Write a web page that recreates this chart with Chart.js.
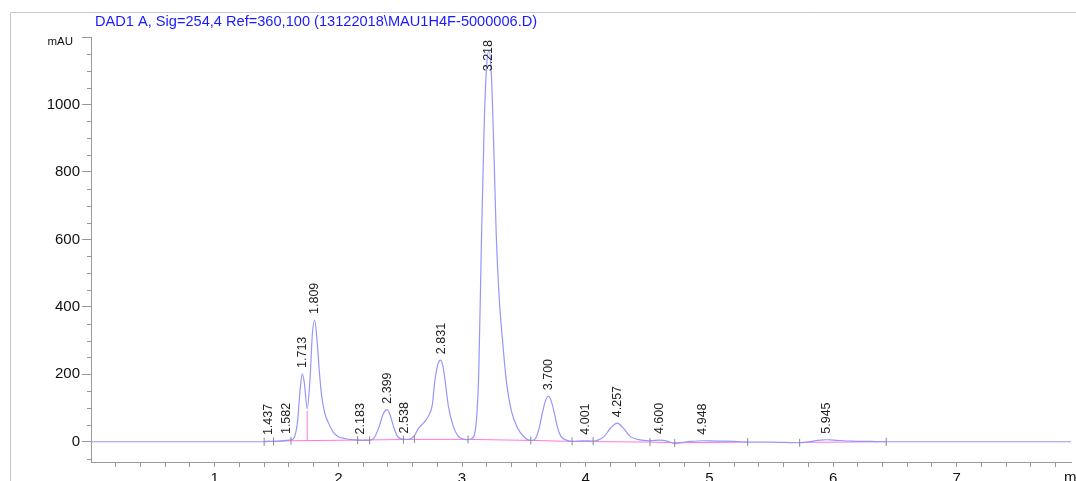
<!DOCTYPE html>
<html>
<head>
<meta charset="utf-8">
<script src="https://cdn.jsdelivr.net/npm/chart.js@4.4.1/dist/chart.umd.min.js"></script>
<style>
  html, body { margin: 0; padding: 0; background: #fff; }
  #wrap { width: 1076px; height: 481px; }
</style>
</head>
<body>
<div id="wrap"><canvas id="chrom" width="1076" height="481"></canvas></div>
<script>
const title = 'DAD1 A, Sig=254,4 Ref=360,100 (13122018\\MAU1H4F-5000006.D)';

// signal trace (min, mAU)
const times = [0, 1.00, 1.35, 1.40, 1.437, 1.47, 1.52, 1.582, 1.62, 1.645, 1.67, 1.69, 1.708, 1.725, 1.748,
  1.77, 1.79, 1.808, 1.828, 1.848, 1.866, 1.89, 1.92, 1.96, 2.00, 2.06, 2.12, 2.183, 2.253, 2.29, 2.33,
  2.36, 2.393, 2.42, 2.45, 2.48, 2.526, 2.56, 2.59, 2.615, 2.645, 2.674, 2.71, 2.74, 2.76, 2.78, 2.805,
  2.826, 2.845, 2.862, 2.89, 2.93, 2.97, 3.01, 3.049, 3.08, 3.10, 3.12, 3.135, 3.155, 3.18, 3.20, 3.218,
  3.237, 3.257, 3.277, 3.30, 3.33, 3.36, 3.40, 3.45, 3.50, 3.556, 3.59, 3.62, 3.65, 3.675, 3.70, 3.72,
  3.746, 3.77, 3.80, 3.85, 3.89, 3.95, 4.00, 4.06, 4.10, 4.15, 4.20, 4.256, 4.30, 4.36, 4.42, 4.47, 4.52,
  4.60, 4.66, 4.72, 4.78, 4.85, 4.948, 5.05, 5.20, 5.31, 5.50, 5.73, 5.80, 5.90, 5.945, 6.00, 6.15, 6.30,
  6.43, 7.00, 7.924];
const signal = [0, 0, 0, 0, 2, 1, 2, 4, 6, 14, 60, 150, 201, 175, 98,
  180, 320, 361, 300, 200, 133, 85, 56, 28, 15, 9, 6, 4, 4, 12, 45,
  80, 95, 78, 40, 16, 7, 7, 10, 18, 38, 50, 65, 85, 110, 180, 230,
  242, 225, 184, 105, 45, 16, 8, 6, 10, 20, 80, 200, 560, 950, 1120, 1160,
  1090, 870, 610, 430, 290, 175, 90, 40, 15, 4, 8, 35, 86, 122, 135, 122,
  86, 45, 16, 4, 1, 2, 3, 2, 5, 16, 40, 55, 42, 16, 7, 4, 3,
  5, 2, -5, -2, 1, 3, 2, 1, -1, -1, -3, 0, 5, 6, 5, 2, 1,
  0, 0, 0];

// integration baseline (pink), null breaks the line
const baseTimes = [1.40, 1.617, 2.156, 2.615, 3.049, 3.556, 3.89, 4.52, 4.72, 5.31, 5.50, 5.73, 6.43];
const baseVals = [0, 3, 5, 7, 7, 4, 1, -1, -3, -1, null, -2, 0];

// drop line between 1.713 and 1.809
const dropTimes = [1.748, 1.748];
const dropVals = [3, 92];

// peak start/end marks
const markTimes = [1.40, 1.476, 1.617, 2.156, 2.253, 2.526, 2.615, 3.049, 3.556, 3.89, 4.06, 4.52, 4.72, 5.31, 5.73, 6.43];
const markVals = [0, 1, 3, 5, 4, 6, 8, 7, 4, 1, 2, -1, -4, -1, -3, 0];

// peaks
const peakLabels = ['1.437', '1.582', '1.713', '1.809', '2.183', '2.399', '2.538', '2.831', '3.218',
  '3.700', '4.001', '4.257', '4.600', '4.948', '5.945'];
const peakTimes = [1.437, 1.582, 1.713, 1.809, 2.183, 2.399, 2.538, 2.831, 3.218, 3.700, 4.001, 4.257, 4.600, 4.948, 5.945];
const peakHeights = [2, 5, 201, 361, 4, 95, 7, 242, 1160, 135, 3, 55, 5, 3, 6];

// axes
const xLabels = [1, 2, 3, 4, 5, 6, 7];
const yLabels = [0, 200, 400, 600, 800, 1000, 1200];

const toPoints = (xs, ys) => xs.map((t, i) => ({ x: t, y: ys[i] }));

const decorPlugin = {
  id: 'decor',
  beforeDraw(chart) {
    const ctx = chart.ctx;
    ctx.save();
    ctx.strokeStyle = '#c8c8c8';
    ctx.lineWidth = 1;
    ctx.beginPath();
    ctx.moveTo(10.5, 481);
    ctx.lineTo(10.5, 12.5);
    ctx.lineTo(1076, 12.5);
    ctx.stroke();

    ctx.fillStyle = '#1a1aff';
    ctx.font = '14.6px Arial';
    ctx.textBaseline = 'alphabetic';
    ctx.fillText(title, 95, 26);
    ctx.restore();
  },
  afterDraw(chart) {
    const { ctx, chartArea } = chart;
    const x = chart.scales.x, y = chart.scales.y;
    ctx.save();
    // minor y ticks
    ctx.strokeStyle = '#999';
    ctx.lineWidth = 1;
    ctx.beginPath();
    for (let v = -50; v <= 1200; v += 50) {
      if (v % 200 === 0 && v >= 0) continue;
      const py = Math.round(y.getPixelForValue(v)) + 0.5;
      ctx.moveTo(chartArea.left - 4, py);
      ctx.lineTo(chartArea.left, py);
    }
    ctx.stroke();

    ctx.fillStyle = '#111';
    ctx.font = '11.5px Arial';
    ctx.textAlign = 'right';
    ctx.textBaseline = 'middle';
    ctx.fillText('mAU', 73, 42);

    ctx.font = '15px Arial';
    ctx.textAlign = 'left';
    ctx.textBaseline = 'top';
    ctx.fillText('min', 1064, 470);

    // peak labels
    ctx.font = '12.5px Arial';
    ctx.fillStyle = '#222';
    ctx.textAlign = 'left';
    ctx.textBaseline = 'middle';
    peakLabels.forEach((label, i) => {
      const px = x.getPixelForValue(peakTimes[i]);
      let py = y.getPixelForValue(peakHeights[i]) - 6;
      const w = ctx.measureText(label).width;
      if (py - w < chartArea.top + 3) py = chartArea.top + 3 + w;
      ctx.save();
      ctx.translate(px, py);
      ctx.rotate(-Math.PI / 2);
      ctx.fillText(label, 0, 0);
      ctx.restore();
    });
    ctx.restore();
  }
};

new Chart(document.getElementById('chrom'), {
  type: 'line',
  data: {
    datasets: [
      {
        data: toPoints(times, signal),
        borderColor: 'rgb(150,150,250)',
        borderWidth: 1.2,
        pointRadius: 0,
        cubicInterpolationMode: 'monotone',
        order: 1
      },
      {
        data: toPoints(baseTimes, baseVals),
        borderColor: 'rgb(255,120,225)',
        borderWidth: 1,
        pointRadius: 0,
        spanGaps: false,
        order: 2
      },
      {
        data: toPoints(dropTimes, dropVals),
        borderColor: 'rgb(255,120,225)',
        borderWidth: 1,
        pointRadius: 0,
        order: 3
      },
      {
        type: 'scatter',
        data: toPoints(markTimes, markVals),
        pointStyle: 'line',
        rotation: 90,
        pointRadius: 4,
        borderColor: '#888',
        borderWidth: 1,
        order: 0
      }
    ]
  },
  options: {
    responsive: false,
    animation: false,
    layout: { padding: { top: 37, left: 0, right: 0, bottom: 0 } },
    plugins: { legend: { display: false }, tooltip: { enabled: false } },
    scales: {
      x: {
        type: 'linear',
        min: 0,
        max: 7.924,
        afterBuildTicks: s => {
          const t = [];
          for (let i = 1; i <= 39; i++) t.push({ value: i / 5 });
          s.ticks = t;
        },
        afterFit: s => { s.height = 19; },
        grid: { drawOnChartArea: false, tickLength: 5, color: '#999' },
        border: { color: '#999' },
        ticks: {
          autoSkip: false,
          maxRotation: 0,
          padding: 3,
          color: '#111',
          font: { family: 'Arial', size: 15 },
          callback: v => {
            const r = Math.round(v);
            return Math.abs(v - r) < 1e-6 && xLabels.includes(r) ? String(r) : '';
          }
        }
      },
      y: {
        min: -60,
        max: 1200,
        afterBuildTicks: s => { s.ticks = yLabels.map(v => ({ value: v })); },
        afterFit: s => { s.width = 91; },
        grid: { drawOnChartArea: false, tickLength: 9, color: '#999' },
        border: { color: '#999' },
        ticks: {
          padding: 2,
          color: '#111',
          font: { family: 'Arial', size: 15 },
          callback: v => (v === 1200 ? '' : String(v))
        }
      }
    }
  },
  plugins: [decorPlugin]
});
</script>
</body>
</html>
